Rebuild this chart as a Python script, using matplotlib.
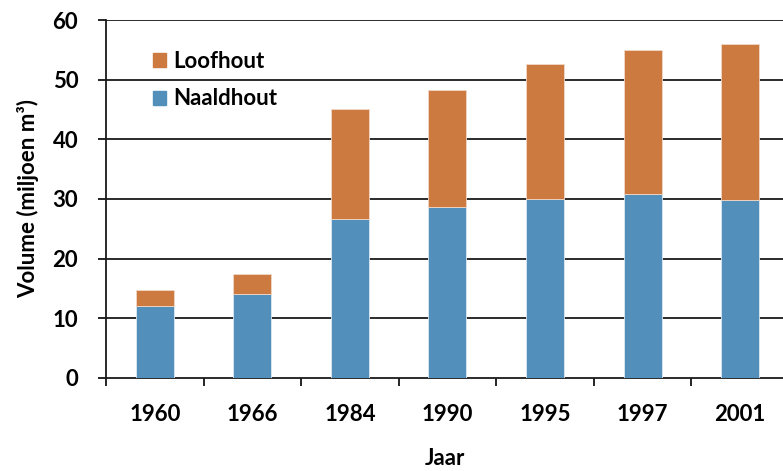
import matplotlib
matplotlib.use('Agg')
from matplotlib import pyplot as plt
from matplotlib.patches import Patch
import numpy as np

years = ['1960', '1966', '1984', '1990', '1995', '1997', '2001']
naaldhout = [12.1, 14.1, 26.6, 28.6, 30.0, 30.8, 29.9]
loofhout_totaal = [14.8, 17.4, 45.1, 48.3, 52.6, 55.0, 56.0]
loofhout = [t - n for t, n in zip(loofhout_totaal, naaldhout)]

c_naald = '#528fbb'
c_loof = '#cd7a40'

plt.rcParams['font.family'] = ['Lato', 'DejaVu Sans']
plt.rcParams['font.weight'] = 'bold'

fig = plt.figure(figsize=(7.83, 4.71), dpi=100)
ax = fig.add_axes([0.1354, 0.1975, 0.8646, 0.76])

x = np.arange(len(years))
w = 0.39
ax.bar(x, naaldhout, w, color=c_naald, edgecolor='#dce8f0', linewidth=0.6, zorder=3)
ax.bar(x, loofhout, w, bottom=naaldhout, color=c_loof, edgecolor='#f0d8c8', linewidth=0.6, zorder=3)

ax.set_ylim(0, 60)
ax.set_xlim(-0.5, 6.44)
ax.set_yticks(range(0, 61, 10))
for yv in range(10, 61, 10):
    ax.axhline(yv, color='#1a1a1a', lw=1.3, zorder=1)

ax.set_xticks(x)
ax.set_xticklabels(years)
ax.set_xticks(np.arange(-0.5, 6.5, 1.0), minor=True)
ax.tick_params(axis='x', which='major', length=0, pad=19, labelsize=16)
ax.tick_params(axis='x', which='minor', length=6, width=1.2, direction='out')
ax.tick_params(axis='y', length=6, width=1.2, direction='out', pad=14, labelsize=16)

for s in ['top', 'right']:
    ax.spines[s].set_visible(False)
for s in ['left', 'bottom']:
    ax.spines[s].set_linewidth(1.3)
    ax.spines[s].set_color('#1a1a1a')

ax.set_xlabel('Jaar', fontsize=16, fontweight='bold', labelpad=16)
ax.set_ylabel('Volume (miljoen m\u00b3)', fontsize=16, fontweight='bold', labelpad=10)

handles = [Patch(color=c_loof, label='Loofhout'), Patch(color=c_naald, label='Naaldhout')]
ax.legend(handles=handles, loc='upper left', bbox_to_anchor=(0.04, 0.97), frameon=False,
          fontsize=16, handlelength=0.6, handleheight=0.6, handletextpad=0.3, labelspacing=0.75)

fig.savefig('out.png', dpi=100)
